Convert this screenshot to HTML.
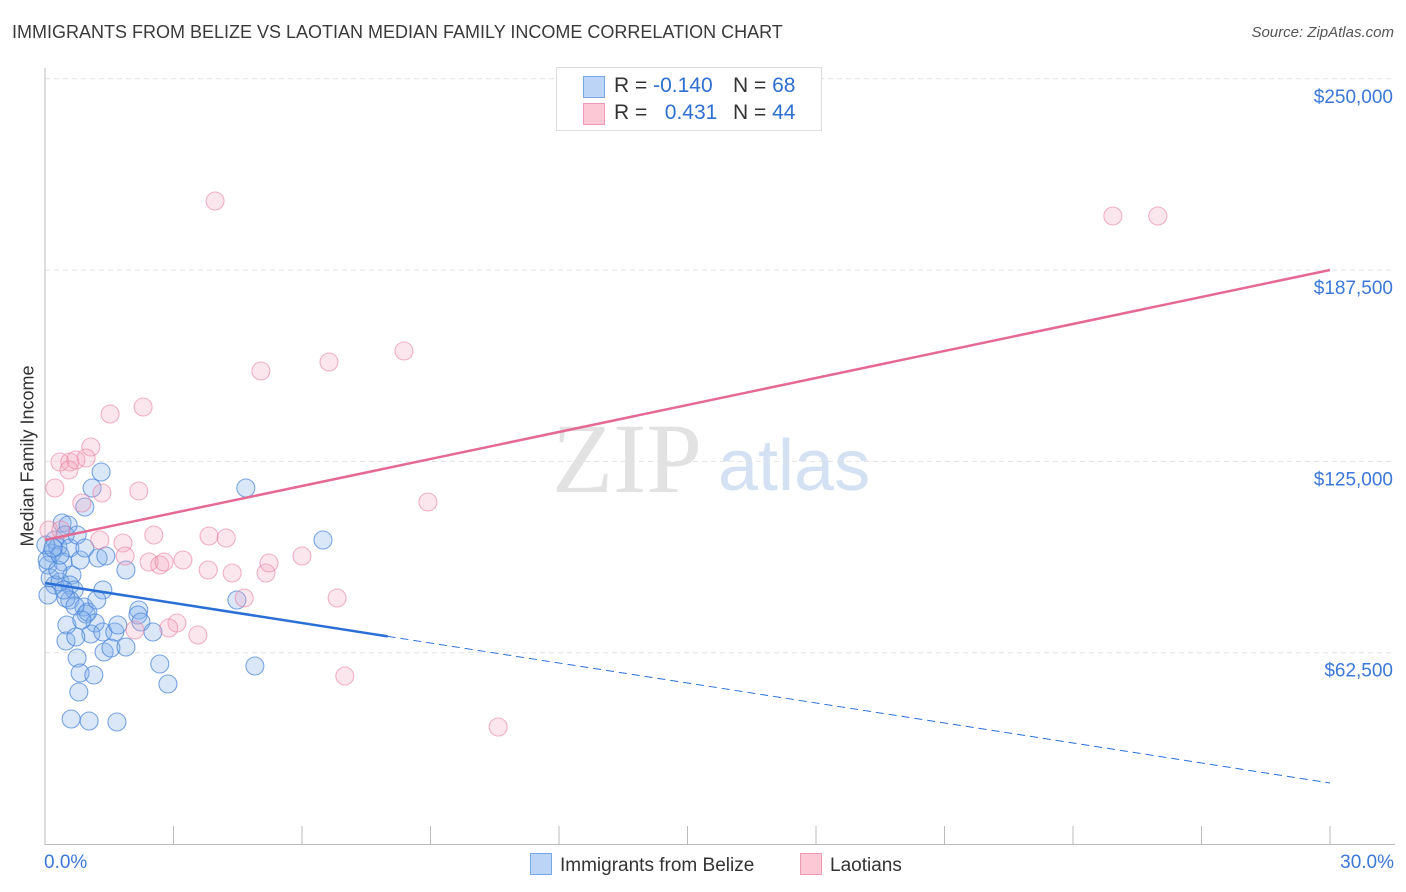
<!DOCTYPE html>
<html><head><meta charset="utf-8"><style>
body{margin:0;background:#fff;font-family:"Liberation Sans",sans-serif;}
#wrap{position:relative;width:1406px;height:892px;overflow:hidden;}
.t{position:absolute;white-space:nowrap;}
</style></head><body>
<div id="wrap">
<div class="t" style="left:12px;top:22px;font-size:18px;color:#3a3a3a;">IMMIGRANTS FROM BELIZE VS LAOTIAN MEDIAN FAMILY INCOME CORRELATION CHART</div>
<div class="t" style="right:12px;top:24px;font-size:15px;color:#555;font-style:italic;">Source: ZipAtlas.com</div>
<svg id="svg" width="1406" height="892" style="position:absolute;left:0;top:0"></svg>
</div>
<script>
const xTicks=[0,3,6,9,12,15,18,21,24,27,30];
const yTicks=[62500,125000,187500,250000];
const yTickLabels=["$62,500","$125,000","$187,500","$250,000"];
const blueX_px=[55,52,48,50,55,60,62,68,65,58,70,63,72,70,74,70,80,77,85,85,92,101,98,106,103,84,86,88,95,91,103,115,118,67,66,76,77,80,79,94,104,111,126,126,139,138,141,153,160,168,71,89,117,237,246,255,323,48,46,47,58,66,75,97,60,82,53,64];
const blueY_px=[540,553,565,578,585,582,523,525,535,547,548,562,575,585,590,600,560,535,548,507,488,472,558,556,590,607,614,612,623,634,632,632,625,625,641,637,658,673,692,675,652,648,647,570,610,615,622,632,664,684,719,721,722,600,488,666,540,595,545,560,570,598,606,600,555,620,548,590];
const pinkX_px=[215,1113,1158,404,329,261,143,110,91,60,70,76,86,55,69,102,139,82,428,49,61,100,123,154,209,226,125,149,160,164,183,208,232,266,269,302,337,244,177,169,135,198,345,498];
const pinkY_px=[201,216,216,351,362,371,407,414,447,462,462,460,458,488,470,493,491,503,502,530,530,540,543,535,536,538,556,562,565,562,560,570,573,573,563,556,598,598,623,628,630,635,676,727];
const X0=45,X1=1330,Y0=844,PPY=191.3/62500;
const blueX=blueX_px.map(p=>+((p-X0)/(X1-X0)*30).toFixed(2));
const blueY=blueY_px.map(p=>Math.round((Y0-p)/PPY));
const pinkX=pinkX_px.map(p=>+((p-X0)/(X1-X0)*30).toFixed(2));
const pinkY=pinkY_px.map(p=>Math.round((Y0-p)/PPY));
const blueLine=[85270,19930];
const pinkLine=[99330,187540];
const xs=v=>X0+v/30*(X1-X0);
const ys=v=>Y0-v*PPY;
const svg=document.getElementById('svg');
const NS='http://www.w3.org/2000/svg';
function mk(tag,attrs,parent){const e=document.createElementNS(NS,tag);for(const k in attrs)e.setAttribute(k,attrs[k]);(parent||svg).appendChild(e);return e;}
let wm=mk('text',{x:552,y:492,'font-size':100,'font-family':'Liberation Serif,serif',fill:'#e2e2e2'});wm.textContent='ZIP';


let wm2=mk('text',{x:718,y:490,'font-size':72,'font-family':'Liberation Sans,sans-serif',fill:'#d3e1f3'});wm2.textContent='atlas';


yTicks.forEach((v,i)=>{
 const g=mk('line',{x1:45,x2:1395,y1:ys(v),y2:ys(v),stroke:'#e2e2e2','stroke-dasharray':'5,4'});
 
 
 const t=mk('text',{x:1393,y:ys(v)+24,'text-anchor':'end','font-size':19,fill:'#3b78d8','font-family':'Liberation Sans,sans-serif'});
 t.textContent=yTickLabels[i];
 
 
});
mk('line',{x1:45,x2:45,y1:68,y2:845,stroke:'#bbb'});
mk('line',{x1:45,x2:1395,y1:844.5,y2:844.5,stroke:'#bbb'});
xTicks.forEach(v=>{const l=mk('line',{x1:xs(v),x2:xs(v),y1:826,y2:845,stroke:'#bbb'});
 
 });
function pts(X,Y,fill,stroke,name){X.forEach((x,i)=>{const c=mk('circle',{cx:xs(x),cy:ys(Y[i]),r:9,fill:fill,stroke:stroke,'stroke-width':1.1});
 
 });}
pts(blueX,blueY,'rgba(130,175,235,0.3)','rgba(70,130,215,0.7)','belize-point');
pts(pinkX,pinkY,'rgba(245,165,190,0.28)','rgba(232,130,162,0.6)','laotian-point');
const bx=8.0;const by=blueLine[0]+(blueLine[1]-blueLine[0])*bx/30;
let l1=mk('line',{x1:xs(0),y1:ys(blueLine[0]),x2:xs(bx),y2:ys(by),stroke:'#2a6fd6','stroke-width':2.5});


let l2=mk('line',{x1:xs(bx),y1:ys(by),x2:xs(30),y2:ys(blueLine[1]),stroke:'#2a6fd6','stroke-width':1,'stroke-dasharray':'8,5'});


let l3=mk('line',{x1:xs(0),y1:ys(pinkLine[0]),x2:xs(30),y2:ys(pinkLine[1]),stroke:'#e56a93','stroke-width':2.5});


</script>
<div class="t" style="left:44px;top:852px;font-size:19px;color:#3b78d8;">0.0%</div>
<div class="t" style="right:12px;top:852px;font-size:19px;color:#3b78d8;">30.0%</div>
<div class="t" style="left:28px;top:456px;font-size:18px;color:#333;transform:translate(-50%,-50%) rotate(-90deg);">Median Family Income</div>
<div style="position:absolute;left:556px;top:67px;width:264px;height:62px;border:1px solid #ddd;background:#fff;font-size:21px;">
 <div style="position:absolute;left:26px;top:8px;width:20px;height:20px;background:#bcd4f6;border:1px solid #7aa6e6;"></div>
 <div class="t" style="left:57px;top:6px;color:#333">R = <span style="color:#2f6fd0">-0.140</span></div>
 <div class="t" style="left:176px;top:6px;color:#333">N = <span style="color:#2f6fd0">68</span></div>
 <div style="position:absolute;left:26px;top:35px;width:20px;height:20px;background:#fcc8d6;border:1px solid #ee9ab5;"></div>
 <div class="t" style="left:57px;top:33px;color:#333">R = &nbsp;&nbsp;<span style="color:#2f6fd0">0.431</span></div>
 <div class="t" style="left:176px;top:33px;color:#333">N = <span style="color:#2f6fd0">44</span></div>
</div>
<div style="position:absolute;left:530px;top:853px;font-size:19px;color:#333;">
 <span style="display:inline-block;width:20px;height:20px;background:#bcd4f6;border:1px solid #7aa6e6;vertical-align:-4px;margin-right:8px;"></span>Immigrants from Belize</div>
<div style="position:absolute;left:800px;top:853px;font-size:19px;color:#333;">
 <span style="display:inline-block;width:20px;height:20px;background:#fcc8d6;border:1px solid #ee9ab5;vertical-align:-4px;margin-right:8px;"></span>Laotians</div>
</body></html>
